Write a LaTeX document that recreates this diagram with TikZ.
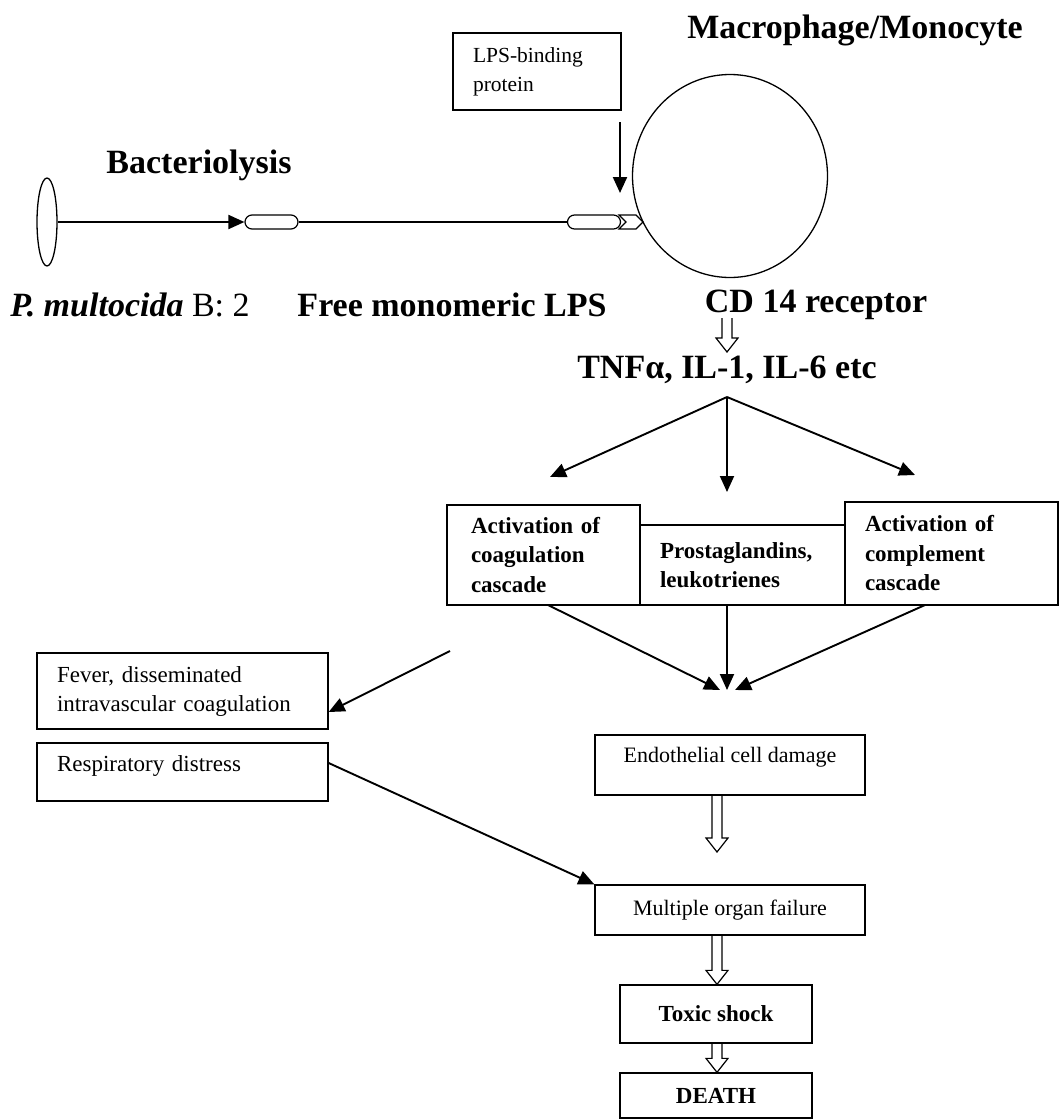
\documentclass[tikz,border=0pt]{standalone}
\usepackage{fontspec}
\setmainfont{Liberation Serif}
\usetikzlibrary{positioning,calc,arrows.meta,shapes.geometric}
\newcommand{\bigfont}{\fontsize{34}{39}\selectfont}
\newcommand{\hollowarrow}[2]{%
  \draw[hollow] let \p1=(#1), \p2=(#2) in
    (\x1-5pt,\y1) -- (\x1-5pt,\y2+14pt) -- (\x1-11pt,\y2+14pt) -- (\x1,\y2)
    -- (\x1+11pt,\y2+14pt) -- (\x1+5pt,\y2+14pt) -- (\x1+5pt,\y1);}

\begin{document}
\begin{tikzpicture}[x=1pt,y=-1pt,every node/.style={inner sep=2pt},
      title/.style={font=\bigfont\bfseries},
      box/.style={draw,line width=1.3pt,font=\fontsize{22}{30}\selectfont,align=left,inner xsep=20pt,inner ysep=0pt},
      sidebox/.style={box,font=\fontsize{23}{29}\selectfont,minimum width=291pt,text width=251pt},
      boldbox/.style={box,font=\fontsize{23}{29.5}\selectfont\bfseries},
      pill/.style={draw,line width=1.2pt,rounded corners=7pt,minimum width=53pt,minimum height=14pt,inner sep=0pt},
      arrow/.style={-{Triangle[length=16pt,width=14pt]},line width=1.9pt},
      hollow/.style={line width=1.2pt}]
      \useasboundingbox (0,0) rectangle (1060,1119);
      % top: bacterium, LPS and the cell
      \node[ellipse,draw,line width=1.3pt,minimum width=20pt,minimum height=88pt,inner sep=0pt] (bact) at (47,222) {};
      \node[title] (lysis) at (199,165) {Bacteriolysis};
      \node[pill] (lps1) at (271.5,222) {};
      \node[pill] (lps2) at (594,222) {};
      \draw[line width=1.2pt] (619,215)--(636,215)--(643,222)--(636,229)--(619,229)--(626,222)--cycle;
      \node[ellipse,draw,line width=1.3pt,minimum width=195pt,minimum height=203pt] (cell) at (730,176) {};
      \node[title] (macro) at (855,30) {Macrophage/Monocyte};
      \node[box,font=\fontsize{21.5}{29}\selectfont,minimum width=168pt,minimum height=77pt,text width=128pt] (lbp) at (537,71.5) {LPS-binding\\protein};
      \coordinate (bindtop) at (620,122);
      \coordinate (bindtip) at (620,193);
      \draw[arrow] (bact.east)--(lps1.west);
      \draw[line width=1.2pt] (lps1)--(lps2);
      \draw[arrow,line width=2.2pt] (bindtop)--(bindtip);
      \node[font=\bigfont] (pmult) at (130,305) {\textbf{\textit{P. multocida}} B: 2};
      \node[title] (free) at (452,305) {Free monomeric LPS};
      \node[title] (cd14) at (816,305) {CD 14 receptor};
      \node[title] (tnf) at (727,370) {TNFα, IL-1, IL-6 etc};
      \coordinate (cdbot) at (727,318);
      \coordinate (tnftop) at (727,352);
      \hollowarrow{cdbot}{tnftop}
      % cascades
      \coordinate (fork) at (727,397);
      \node[boldbox,minimum width=193pt,minimum height=100pt,text width=145pt,inner xsep=24pt] (coag) at (543.5,555) {Activation of\\coagulation\\cascade};
      \node[boldbox,minimum width=205pt,minimum height=80pt,text width=165pt] (prost) at (742.5,565) {Prostaglandins,\\leukotrienes};
      \node[boldbox,minimum width=213pt,minimum height=103pt,text width=173pt] (compl) at (951.5,553.5) {Activation of\\complement\\cascade};
      \coordinate (tipA) at (550,477);
      \coordinate (tipB) at (727,492);
      \coordinate (tipC) at (915,475);
      \draw[arrow] (fork)--(tipA);
      \draw[arrow] (fork)--(tipB);
      \draw[arrow] (fork)--(tipC);
      \coordinate (meetA) at (720,690);
      \coordinate (meetB) at (727,690);
      \coordinate (meetC) at (735,690);
      \draw[arrow] (548,605)--(meetA);
      \draw[arrow] (tipB|-prost.south)--(meetB);
      \draw[arrow] (925,605)--(meetC);
      % left column
      \node[sidebox,minimum height=76pt] (fever) at (182.5,691) {Fever, disseminated\\intravascular coagulation};
      \node[sidebox,minimum height=58pt,text depth=17pt] (resp) at (182.5,772) {Respiratory distress};
      \coordinate (feverfrom) at (450,651);
      \draw[arrow] (feverfrom)--([yshift=-21pt]fever.east);
      % right column
      \node[box,align=center,minimum width=270pt,minimum height=60pt,text depth=20pt] (endo) at (730,765) {Endothelial cell damage};
      \node[box,align=center,minimum width=270pt,minimum height=50pt] (mof) at (730,910) {Multiple organ failure};
      \node[boldbox,align=center,minimum width=192pt,minimum height=58pt] (toxic) at (716,1014) {Toxic shock};
      \node[boldbox,align=center,minimum width=192pt,minimum height=45pt] (death) at (716,1095.5) {DEATH};
      \draw[arrow] ([yshift=9pt]resp.east)--(mof.north west);
      \coordinate (endotip) at (717,852);
      \hollowarrow{endo.south-|endotip}{endotip}
      \hollowarrow{mof.south-|endotip}{toxic.north-|endotip}
      \hollowarrow{toxic.south-|endotip}{death.north-|endotip}
    \end{tikzpicture}
\end{document}
